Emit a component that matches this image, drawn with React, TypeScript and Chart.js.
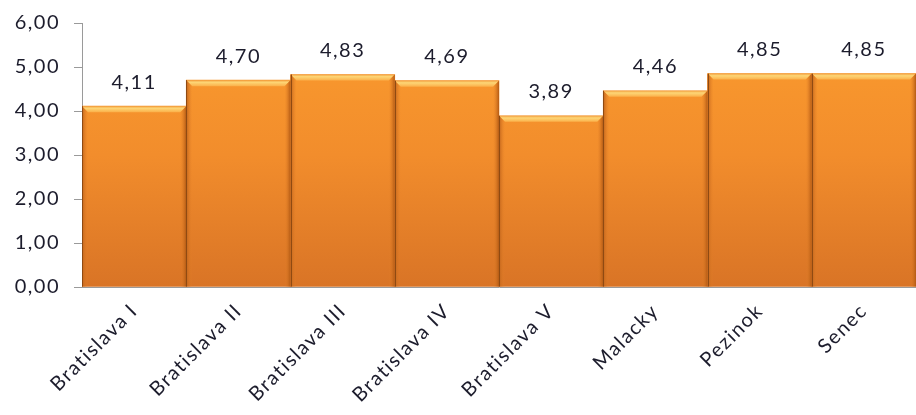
import React, { useEffect, useRef } from "react";
import { Chart, registerables } from "chart.js";

Chart.register(...registerables);

const categories = ["Bratislava I", "Bratislava II", "Bratislava III", "Bratislava IV", "Bratislava V", "Malacky", "Pezinok", "Senec"];
const values = [4.11, 4.7, 4.83, 4.69, 3.89, 4.46, 4.85, 4.85];
const yMin = 0;
const yMax = 6;
const yStep = 1;

const fmt = (v: number) => v.toFixed(2).replace(".", ",");

const FONT = "Lato, 'Open Sans', sans-serif";
const TEXT = "#1c1c2c";
const SPACING = "1.5px";

const spacingPlugin = {
  id: "spacing",
  beforeUpdate(chart: any) {
    (chart.ctx as any).letterSpacing = SPACING;
  },
  beforeDraw(chart: any) {
    (chart.ctx as any).letterSpacing = SPACING;
  },
};

const bevelPlugin = {
  id: "bevel",
  afterDatasetsDraw(chart: any) {
    const ctx = chart.ctx;
    const meta = chart.getDatasetMeta(0);
    meta.data.forEach((bar: any, i: number) => {
      const { x, y, base, width } = bar.getProps(["x", "y", "base", "width"], true);
      const l = x - width / 2;
      const r = x + width / 2;
      const b = 6;
      ctx.save();
      // top highlight
      const tg = ctx.createLinearGradient(0, y, 0, y + b);
      tg.addColorStop(0, "#f2a040");
      tg.addColorStop(0.35, "#fdd676");
      tg.addColorStop(1, "#fbb04a");
      ctx.fillStyle = tg;
      ctx.beginPath();
      ctx.moveTo(l, y);
      ctx.lineTo(r, y);
      ctx.lineTo(r - b, y + b);
      ctx.lineTo(l + b, y + b);
      ctx.closePath();
      ctx.fill();
      // left side
      const lg = ctx.createLinearGradient(l, 0, l + b, 0);
      lg.addColorStop(0, "#c0641c");
      lg.addColorStop(1, "rgba(230,130,40,0)");
      ctx.fillStyle = lg;
      ctx.beginPath();
      ctx.moveTo(l, y);
      ctx.lineTo(l + b, y + b);
      ctx.lineTo(l + b, base);
      ctx.lineTo(l, base);
      ctx.closePath();
      ctx.fill();
      // right side
      const rg = ctx.createLinearGradient(r - b, 0, r, 0);
      rg.addColorStop(0, "rgba(230,130,40,0)");
      rg.addColorStop(1, "#b35a14");
      ctx.fillStyle = rg;
      ctx.beginPath();
      ctx.moveTo(r, y);
      ctx.lineTo(r - b, y + b);
      ctx.lineTo(r - b, base);
      ctx.lineTo(r, base);
      ctx.closePath();
      ctx.fill();
      // separator line
      ctx.strokeStyle = "#8f4a12";
      ctx.lineWidth = 1;
      ctx.beginPath();
      ctx.moveTo(Math.round(l) + 0.5, y);
      ctx.lineTo(Math.round(l) + 0.5, base);
      ctx.stroke();
      // value label
      ctx.fillStyle = TEXT;
      ctx.font = "20px " + FONT;
      ctx.textAlign = "center";
      ctx.textBaseline = "middle";
      ctx.fillText(fmt(values[i]), x, y - 24);
      ctx.restore();
    });
  },
};

export default function App() {
  const ref = useRef<HTMLCanvasElement>(null);
  useEffect(() => {
    document.body.style.margin = "0";
    const canvas = ref.current!;
    const chart = new Chart(canvas, {
      type: "bar",
      data: {
        labels: categories,
        datasets: [
          {
            data: values,
            backgroundColor: (c: any) => {
              const area = c.chart.chartArea;
              if (!area) return "#f39130";
              const g = c.chart.ctx.createLinearGradient(0, area.top, 0, area.bottom);
              g.addColorStop(0, "#fb9c2e");
              g.addColorStop(0.5, "#f28d2c");
              g.addColorStop(1, "#d97426");
              return g;
            },
            borderWidth: 0,
            barPercentage: 1,
            categoryPercentage: 1,
          },
        ],
      },
      options: {
        animation: false,
        responsive: false,
        maintainAspectRatio: false,
        layout: { padding: { top: 23, right: 0, left: 0, bottom: 0 } },
        plugins: { legend: { display: false }, tooltip: { enabled: false } },
        scales: {
          y: {
            min: yMin,
            max: yMax,
            ticks: {
              stepSize: yStep,
              callback: (v: any) => fmt(Number(v)),
              font: { family: FONT, size: 20 },
              color: TEXT,
              padding: 14,
            },
            grid: { drawOnChartArea: false, drawTicks: true, tickLength: 8, color: "#9a9a9a" },
            border: { display: true, color: "#9a9a9a" },
            afterFit: (s: any) => {
              s.width = 82;
              s.paddingTop = 0;
              s.paddingBottom = 0;
            },
          },
          x: {
            ticks: {
              minRotation: 45,
              maxRotation: 45,
              font: { family: FONT, size: 20 },
              color: TEXT,
              padding: 4,
            },
            grid: { display: false },
            border: { display: true, color: "#9a9a9a" },
            afterFit: (s: any) => {
              s.height = 128;
              s.paddingRight = 0;
              s.paddingLeft = 0;
            },
          },
        },
      },
      plugins: [spacingPlugin, bevelPlugin],
    });
    return () => chart.destroy();
  }, []);
  return <canvas ref={ref} width={916} height={415} style={{ display: "block" }} />;
}
